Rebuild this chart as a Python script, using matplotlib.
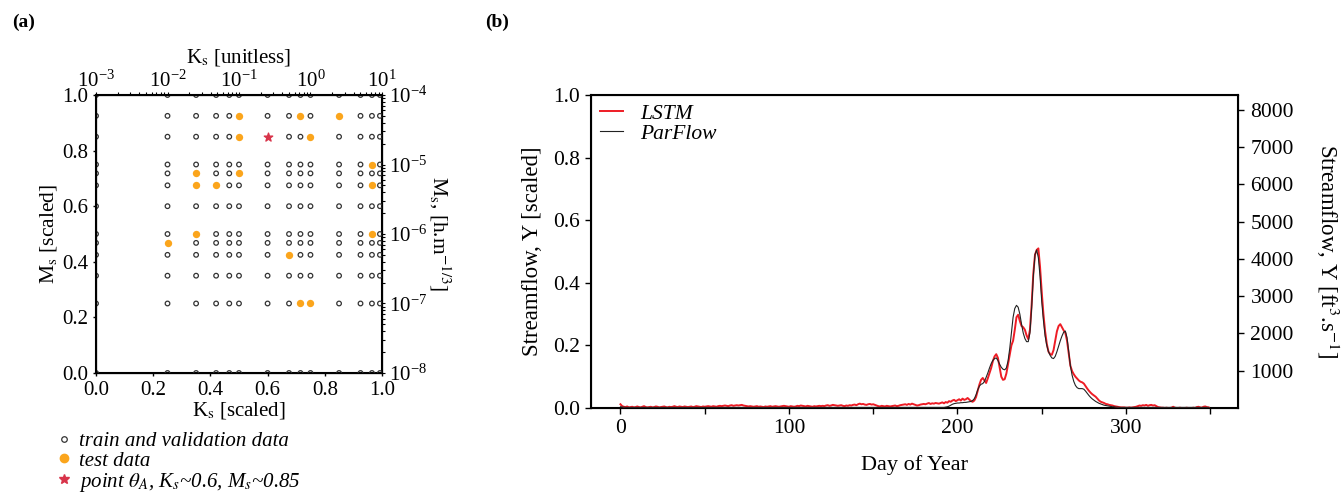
import numpy as np
import matplotlib
matplotlib.use('Agg')
import matplotlib.pyplot as plt
from matplotlib.lines import Line2D

plt.rcParams['font.family'] = 'serif'
plt.rcParams['font.serif'] = ['Liberation Serif', 'DejaVu Serif']
plt.rcParams['mathtext.fontset'] = 'stix'
plt.rcParams['font.size'] = 15

# ---- panel (a): parameter grid (scaled coordinates) ----
ks_cols = [0.0, 0.25, 0.35, 0.42, 0.466, 0.5, 0.6, 0.675, 0.715, 0.75, 0.85, 0.925, 0.965, 0.993]
ms_rows = [0.0, 0.25, 0.35, 0.425, 0.468, 0.5, 0.6, 0.675, 0.718, 0.75, 0.85, 0.925, 1.0]

test_ks = [0.5, 0.715, 0.85, 0.5, 0.75, 0.965, 0.35, 0.5, 0.35, 0.42, 0.965, 0.35, 0.965, 0.25, 0.675, 0.715, 0.75]
test_ms = [0.925, 0.925, 0.925, 0.85, 0.85, 0.75, 0.718, 0.718, 0.675, 0.675, 0.675, 0.5, 0.5, 0.468, 0.425, 0.25, 0.25]

point_a_ks = [0.6]
point_a_ms = [0.85]

# ---- panel (b): daily streamflow (scaled) ----
days = list(range(350))

lstm = [
    0.012, 0.006, 0.004, 0.003, 0.005, 0.002, 0.003, 0.004, 0.002, 0.003,
    0.005, 0.003, 0.002, 0.004, 0.006, 0.003, 0.002, 0.003, 0.004, 0.002,
    0.003, 0.005, 0.004, 0.002, 0.003, 0.004, 0.005, 0.003, 0.002, 0.004,
    0.003, 0.004, 0.006, 0.004, 0.003, 0.005, 0.004, 0.003, 0.005, 0.004,
    0.003, 0.004, 0.005, 0.003, 0.004, 0.006, 0.005, 0.004, 0.003, 0.005,
    0.004, 0.005, 0.006, 0.005, 0.004, 0.006, 0.005, 0.004, 0.006, 0.007,
    0.006, 0.007, 0.008, 0.007, 0.006, 0.008, 0.009, 0.007, 0.008, 0.009,
    0.008, 0.009, 0.010, 0.008, 0.007, 0.006, 0.005, 0.006, 0.005, 0.004,
    0.005, 0.006, 0.004, 0.005, 0.004, 0.003, 0.005, 0.004, 0.005, 0.006,
    0.004, 0.005, 0.006, 0.005, 0.004, 0.005, 0.006, 0.007, 0.006, 0.005,
    0.004, 0.006, 0.005, 0.004, 0.005, 0.007, 0.006, 0.008, 0.007, 0.006,
    0.005, 0.007, 0.006, 0.005, 0.004, 0.006, 0.005, 0.006, 0.007, 0.006,
    0.007, 0.006, 0.008, 0.009, 0.007, 0.008, 0.010, 0.009, 0.008, 0.007,
    0.008, 0.009, 0.007, 0.006, 0.008, 0.007, 0.009, 0.008, 0.010, 0.011,
    0.009, 0.012, 0.014, 0.012, 0.013, 0.011, 0.010, 0.012, 0.013, 0.011,
    0.012, 0.010, 0.008, 0.006, 0.005, 0.007, 0.006, 0.005, 0.007, 0.006,
    0.005, 0.006, 0.007, 0.008, 0.006, 0.007, 0.009, 0.010, 0.011, 0.012,
    0.010, 0.013, 0.011, 0.014, 0.012, 0.010, 0.008, 0.009, 0.011, 0.012,
    0.013, 0.012, 0.014, 0.016, 0.013, 0.015, 0.014, 0.016, 0.015, 0.014,
    0.016, 0.018, 0.015, 0.019, 0.017, 0.022, 0.020, 0.024, 0.026, 0.022,
    0.025, 0.028, 0.024, 0.030, 0.026, 0.028, 0.032, 0.027, 0.022, 0.020,
    0.024, 0.035, 0.055, 0.075, 0.090, 0.096, 0.088, 0.080, 0.095, 0.112,
    0.128, 0.150, 0.165, 0.172, 0.160, 0.130, 0.100, 0.090, 0.092, 0.110,
    0.140, 0.170, 0.200, 0.215, 0.250, 0.290, 0.298, 0.278, 0.262, 0.258,
    0.250, 0.232, 0.220, 0.250, 0.330, 0.430, 0.490, 0.505, 0.510, 0.450,
    0.370, 0.300, 0.245, 0.205, 0.180, 0.172, 0.170, 0.185, 0.215, 0.245,
    0.262, 0.268, 0.258, 0.248, 0.240, 0.215, 0.175, 0.135, 0.118, 0.108,
    0.100, 0.094, 0.088, 0.084, 0.082, 0.078, 0.070, 0.062, 0.055, 0.049,
    0.044, 0.040, 0.036, 0.030, 0.024, 0.020, 0.018, 0.016, 0.013, 0.012,
    0.010, 0.009, 0.008, 0.006, 0.005, 0.004, 0.003, 0.002, 0.002, 0.002,
    0.001, 0.001, 0.002, 0.001, 0.002, 0.003, 0.004, 0.006, 0.008, 0.007,
    0.009, 0.008, 0.010, 0.007, 0.009, 0.010, 0.008, 0.009, 0.006, 0.003,
    0.002, 0.001, 0.001, 0.000, 0.001, 0.000, 0.000, 0.001, 0.004, 0.001,
    0.000, 0.000, 0.001, 0.000, 0.000, 0.000, 0.001, 0.000, 0.000, 0.000,
    0.001, 0.000, 0.003, 0.004, 0.002, 0.001, 0.004, 0.005, 0.003, 0.002,
]

parflow = (
    [0.004, 0.003, 0.003, 0.002, 0.002, 0.002, 0.002, 0.002, 0.002, 0.002]
    + [0.002] * 180
    + [0.002, 0.002, 0.002, 0.003, 0.004, 0.006, 0.009, 0.012, 0.014, 0.015,
       0.016, 0.016, 0.017, 0.017, 0.018, 0.018, 0.019, 0.020, 0.021, 0.024,
       0.030, 0.042, 0.058, 0.070, 0.076, 0.078, 0.085, 0.098, 0.112, 0.128,
       0.142, 0.152, 0.158, 0.160, 0.152, 0.140, 0.130, 0.124, 0.122, 0.128,
       0.150, 0.190, 0.240, 0.290, 0.318, 0.328, 0.322, 0.300, 0.268, 0.240,
       0.222, 0.212, 0.212, 0.240, 0.320, 0.420, 0.490, 0.505, 0.480, 0.420,
       0.340, 0.280, 0.230, 0.200, 0.180, 0.168, 0.160, 0.158, 0.165, 0.180,
       0.198, 0.215, 0.230, 0.242, 0.246, 0.225, 0.180, 0.135, 0.105, 0.085,
       0.072, 0.065, 0.062, 0.062, 0.062, 0.060, 0.054, 0.047, 0.040, 0.034,
       0.029, 0.025, 0.021, 0.018, 0.015, 0.013, 0.011, 0.009, 0.008, 0.007,
       0.006, 0.005, 0.004, 0.004, 0.003, 0.003, 0.002, 0.002, 0.002, 0.002]
    + [0.002] * 50
)

q_max = 8400  # ft3/s at scaled 1.0

fig = plt.figure(figsize=(13.43, 4.92), dpi=100)

# ---------------- (a) ----------------
ax1 = fig.add_axes([0.0715, 0.2419, 0.2129, 0.565])
test_set = set(zip(test_ks, test_ms))
tr_x, tr_y = [], []
for k in ks_cols:
    for m in ms_rows:
        if (k, m) not in test_set and (k, m) != (point_a_ks[0], point_a_ms[0]):
            tr_x.append(k)
            tr_y.append(m)
ax1.scatter(tr_x, tr_y, s=11, facecolors='none', edgecolors='#333333', linewidths=0.9, zorder=3)
ax1.scatter(test_ks, test_ms, s=28, color='#FBA51C', linewidths=0, zorder=4)
ax1.scatter(point_a_ks, point_a_ms, s=40, marker='*', color='#D8344A', zorder=5)
ax1.set_xlim(0, 1)
ax1.set_ylim(0, 1)
ax1.set_xticks([0.0, 0.2, 0.4, 0.6, 0.8, 1.0])
ax1.set_yticks([0.0, 0.2, 0.4, 0.6, 0.8, 1.0])
ax1.tick_params(direction='out', length=2.5, width=1, pad=3, labelsize=15)
for s in ax1.spines.values():
    s.set_linewidth(1.5)
ax1.set_xlabel(r'K$_\mathrm{s}$ [scaled]', fontsize=15, labelpad=0)
ax1.set_ylabel(r'M$_\mathrm{s}$ [scaled]', fontsize=15.5, labelpad=2)

top = ax1.twiny()
top.set_xscale('log')
top.set_xlim(1e-3, 1e1)
top.tick_params(which='both', direction='out', length=2, width=0.8, labelsize=15, pad=0)
top.set_xlabel(r'K$_\mathrm{s}$ [unitless]', fontsize=15, labelpad=6)

rgt = ax1.twinx()
rgt.set_yscale('log')
rgt.set_ylim(1e-8, 1e-4)
rgt.tick_params(which='both', direction='out', length=2, width=0.8, labelsize=15, pad=3)
rgt.set_ylabel(r'M$_\mathrm{s}$, [h.m$^{-1/3}$]', fontsize=15.5, rotation=270, labelpad=18)

handles = [
    Line2D([], [], linestyle='none', marker='o', markersize=4, markerfacecolor='none',
           markeredgecolor='#333333', markeredgewidth=0.9),
    Line2D([], [], linestyle='none', marker='o', markersize=6, color='#FBA51C'),
    Line2D([], [], linestyle='none', marker='*', markersize=7, color='#D8344A'),
]
labels = ['train and validation data', 'test data',
          r'point $\theta_A$, K$_s$~0.6, M$_s$~0.85']
fig.legend(handles, labels, loc='upper left', bbox_to_anchor=(0.034, 0.14),
           frameon=False, prop={'style': 'italic', 'size': 15},
           handletextpad=0.2, labelspacing=0.0, borderaxespad=0, handlelength=1.0)

# ---------------- (b) ----------------
ax2 = fig.add_axes([0.4401, 0.1707, 0.4817, 0.6362])
ax2.plot(days, lstm, color='#EE1C25', linewidth=1.4, label='LSTM', zorder=3)
ax2.plot(days, parflow, color='#222222', linewidth=0.8, label='ParFlow', zorder=4)
ax2.set_ylim(0, 1)
ax2.set_xlim(-17.45, 366.45)
ax2.set_xticks([0, 100, 200, 300])
ax2.set_xticks([50, 150, 250, 350], minor=True)
ax2.set_yticks([0.0, 0.2, 0.4, 0.6, 0.8, 1.0])
ax2.tick_params(which='both', direction='out', length=4, width=1, pad=4, labelsize=15.5)
for s in ax2.spines.values():
    s.set_linewidth(1.5)
ax2.set_xlabel('Day of Year', fontsize=16, labelpad=12)
ax2.set_ylabel('Streamflow, Y [scaled]', fontsize=16.5, labelpad=7)
ax2.legend(loc='upper left', frameon=False, prop={'style': 'italic', 'size': 15.5},
           handlelength=1.1, handletextpad=0.8, labelspacing=0.0, borderaxespad=0.0)

ax3 = ax2.twinx()
ax3.set_ylim(0, q_max)
ax3.set_yticks([1000, 2000, 3000, 4000, 5000, 6000, 7000, 8000])
ax3.tick_params(direction='out', length=4, width=1, pad=5, labelsize=15.5)
ax3.set_ylabel(r'Streamflow, Y [ft$^3$.s$^{-1}$]', fontsize=16.5, rotation=270, labelpad=34)

fig.text(0.009, 0.945, '(a)', fontsize=14, fontweight='bold')
fig.text(0.361, 0.945, '(b)', fontsize=14, fontweight='bold')

fig.savefig('out.png', dpi=100)
